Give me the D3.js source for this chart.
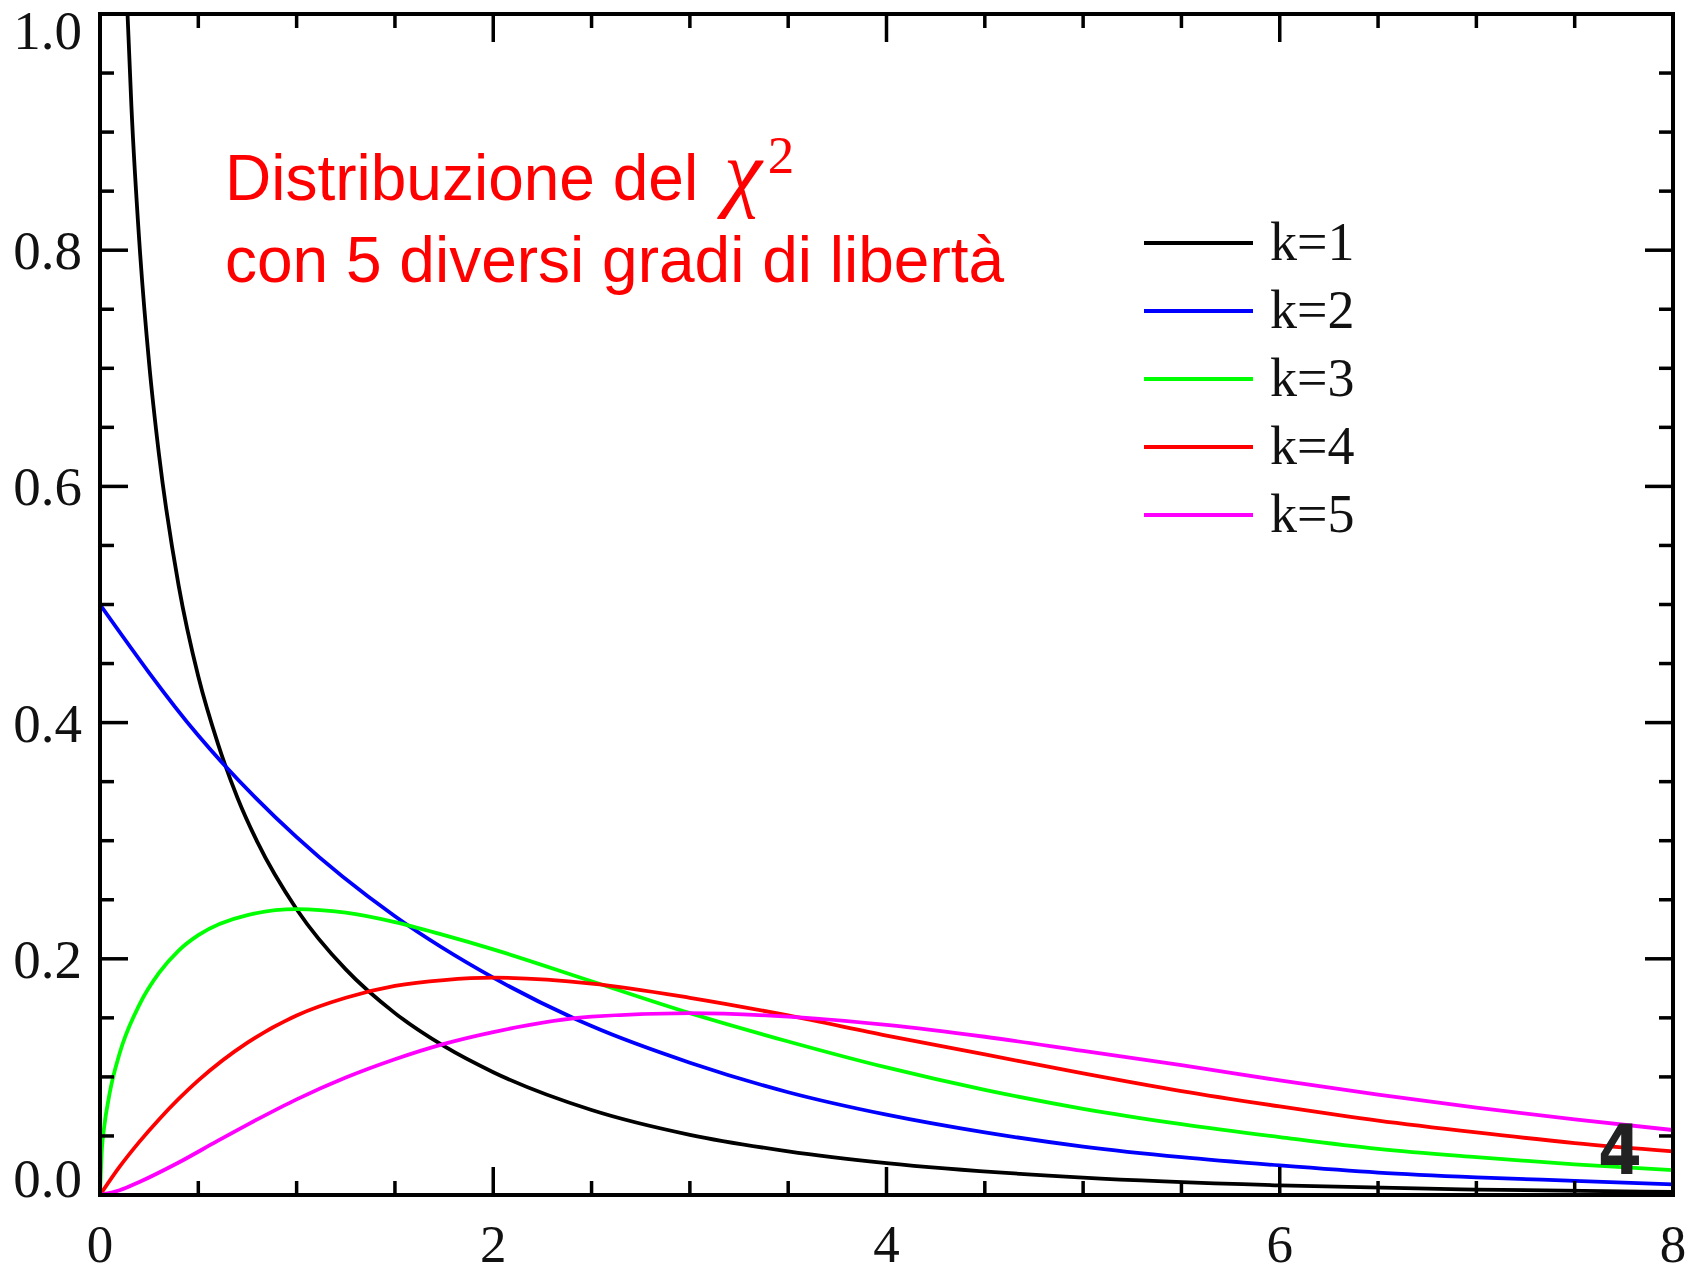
<!DOCTYPE html>
<html><head><meta charset="utf-8">
<script src="https://cdn.jsdelivr.net/npm/d3@7"></script>
<style>html,body{margin:0;padding:0;background:#fff;}svg{display:block;}</style>
</head><body>
<svg id="chart" width="1700" height="1273"></svg>
<script>
// ---- data ----
const seriesNames = ["k=1","k=2","k=3","k=4","k=5"];
const seriesColors = ["#000000","#0000ff","#00ff00","#ff0000","#ff00ff"];

const k1x = [0.14,0.16,0.2,0.25,0.3,0.4,0.5,0.6,0.7,0.8,1,1.25,1.5,1.75,2,2.5,3,3.5,4,5,6,7,8];
const k1y = [1.0,0.921,0.807,0.704,0.627,0.516,0.439,0.382,0.336,0.299,0.242,0.191,0.154,0.126,0.104,0.072,0.051,0.037,0.027,0.0147,0.0081,0.0046,0.0026];

const k2x = [0,0.5,1,1.5,2,2.5,3,3.5,4,4.5,5,5.5,6,6.5,7,7.5,8];
const k2y = [0.5,0.389,0.303,0.236,0.184,0.143,0.112,0.087,0.068,0.053,0.041,0.032,0.025,0.019,0.015,0.012,0.009];

const k3x = [0,0.01,0.02,0.05,0.1,0.2,0.3,0.4,0.5,0.75,1,1.25,1.5,1.75,2,2.5,3,3.5,4,4.5,5,5.5,6,6.5,7,7.5,8];
const k3y = [0,0.040,0.056,0.087,0.120,0.161,0.188,0.207,0.220,0.237,0.242,0.239,0.231,0.220,0.208,0.181,0.154,0.130,0.108,0.089,0.073,0.060,0.049,0.039,0.032,0.026,0.021];

const k4x = [0,0.1,0.2,0.3,0.5,0.75,1,1.25,1.5,1.75,2,2.5,3,3.5,4,4.5,5,5.5,6,6.5,7,7.5,8];
const k4y = [0,0.024,0.045,0.064,0.097,0.129,0.152,0.167,0.177,0.182,0.184,0.179,0.167,0.152,0.135,0.119,0.103,0.088,0.075,0.063,0.053,0.044,0.037];

const k5x = [0,0.1,0.2,0.4,0.6,0.8,1,1.25,1.5,1.75,2,2.5,3,3.5,4,4.5,5,5.5,6,6.5,7,7.5,8];
const k5y = [0,0.004,0.011,0.0275,0.046,0.064,0.081,0.0995,0.115,0.128,0.138,0.151,0.154,0.151,0.144,0.134,0.122,0.110,0.097,0.085,0.074,0.064,0.055];

const xMajor = [0,2,4,6,8];
const xLabels = ["0","2","4","6","8"];
const yMajor = [0,0.2,0.4,0.6,0.8,1.0];
const yLabels = ["0.0","0.2","0.4","0.6","0.8","1.0"];
const xMinor = d3.range(0,8.001,0.5);
const yMinor = d3.range(0,1.001,0.05);

const titleLine1 = "Distribuzione del ";
const titleChi = "χ";
const titleSup = "2";
const titleLine2 = "con 5 diversi gradi di libertà";
const pageNumber = "4";

// ---- drawing ----
const svg = d3.select("#chart");
const L = 100, R = 1673, T = 14, B = 1195;
const x = d3.scaleLinear().domain([0,8]).range([L,R]);
const y = d3.scaleLinear().domain([0,1]).range([B,T]);

const series = [[k1x,k1y],[k2x,k2y],[k3x,k3y],[k4x,k4y],[k5x,k5y]]
  .map((s,i)=>({name:seriesNames[i],color:seriesColors[i],pts:s[0].map((v,j)=>[v,s[1][j]])}));

svg.append("defs").append("clipPath").attr("id","clip")
  .append("rect").attr("x",L).attr("y",T).attr("width",R-L).attr("height",B-T);

const line = d3.line().x(d=>x(d[0])).y(d=>y(d[1])).curve(d3.curveMonotoneX);
const g = svg.append("g").attr("clip-path","url(#clip)");
series.forEach(s=>{
  g.append("path").attr("d",line(s.pts)).attr("fill","none")
   .attr("stroke",s.color).attr("stroke-width",3.8).attr("stroke-linejoin","round");
});

// ticks (inward, all four sides)
const tk = svg.append("g").attr("stroke","#000").attr("stroke-width",3.5);
const majL = 28, minL = 14;
xMinor.forEach(v=>{
  const isMaj = Math.abs(v/2 - Math.round(v/2))<1e-6;
  const len = isMaj?majL:minL;
  tk.append("line").attr("x1",x(v)).attr("x2",x(v)).attr("y1",B).attr("y2",B-len);
  tk.append("line").attr("x1",x(v)).attr("x2",x(v)).attr("y1",T).attr("y2",T+len);
});
yMinor.forEach(v=>{
  const isMaj = Math.abs(v/0.2 - Math.round(v/0.2))<1e-6;
  const len = isMaj?majL:minL;
  tk.append("line").attr("y1",y(v)).attr("y2",y(v)).attr("x1",L).attr("x2",L+len);
  tk.append("line").attr("y1",y(v)).attr("y2",y(v)).attr("x1",R).attr("x2",R-len);
});

// frame
svg.append("rect").attr("x",L).attr("y",T).attr("width",R-L).attr("height",B-T)
  .attr("fill","none").attr("stroke","#000").attr("stroke-width",4);

// tick labels
const serif = "'Liberation Serif','DejaVu Serif',serif";
xMajor.forEach((v,i)=>{
  svg.append("text").attr("x",x(v)).attr("y",1262).attr("text-anchor","middle")
    .attr("font-family",serif).attr("font-size",53).attr("fill","#111").text(xLabels[i]);
});
yMajor.forEach((v,i)=>{
  let base = y(v)+19;
  if (i===yMajor.length-1) base = 49;
  if (i===0) base = 1197;
  svg.append("text").attr("x",82).attr("y",base).attr("text-anchor","end")
    .attr("font-family",serif).attr("font-size",55).attr("fill","#111").text(yLabels[i]);
});

// title
const sans = "'Liberation Sans',Arial,sans-serif";
const t1 = svg.append("text").attr("x",225).attr("y",200).attr("font-family",sans)
  .attr("font-size",64).attr("fill","#ff0000");
t1.append("tspan").text(titleLine1);
t1.append("tspan").attr("font-family",serif).attr("font-style","italic").attr("font-size",86).attr("dx",8).text(titleChi);
t1.append("tspan").attr("font-family",serif).attr("font-size",53).attr("dx",6).attr("dy",-27).text(titleSup);
svg.append("text").attr("x",225).attr("y",282).attr("font-family",sans)
  .attr("font-size",64).attr("fill","#ff0000").text(titleLine2);

// legend
const legY0 = 243, legDy = 68;
series.forEach((s,i)=>{
  const yy = legY0 + i*legDy;
  svg.append("line").attr("x1",1144).attr("x2",1253).attr("y1",yy).attr("y2",yy)
    .attr("stroke",s.color).attr("stroke-width",4);
  svg.append("text").attr("x",1270).attr("y",yy+17).attr("font-family",serif)
    .attr("font-size",54).attr("fill","#111").text(s.name);
});

// page number
svg.append("text").attr("x",1620).attr("y",1174).attr("text-anchor","middle")
  .attr("font-family","'Liberation Sans Narrow','DejaVu Sans Condensed',sans-serif")
  .attr("font-weight","bold").attr("font-size",70).attr("fill","#222").text(pageNumber);
</script>
</body></html>
